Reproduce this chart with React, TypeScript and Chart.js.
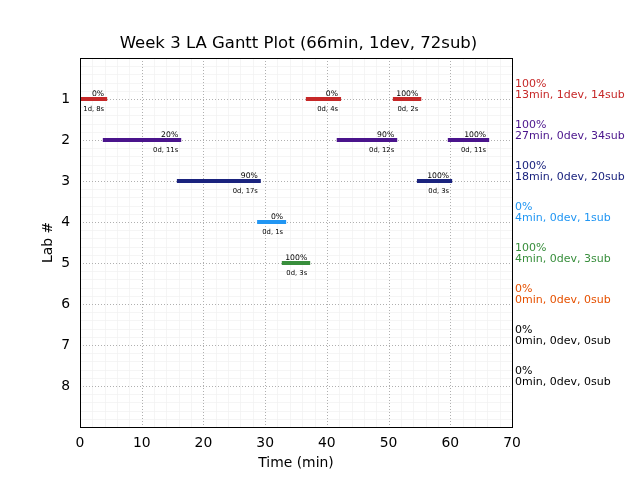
import React, { useEffect, useRef } from "react";
import { Chart, registerables } from "chart.js";

Chart.register(...registerables);

const TITLE = "Week 3 LA Gantt Plot (66min, 1dev, 72sub)";
const X_LABEL = "Time (min)";
const Y_LABEL = "Lab #";

const labs = [1, 2, 3, 4, 5, 6, 7, 8];
const labColors = ["#c62828", "#4a148c", "#1a237e", "#2196f3", "#388e3c", "#e65100", "#000000", "#000000"];
const labPct = ["100%", "100%", "100%", "0%", "100%", "0%", "0%", "0%"];
const labSummary = [
  "13min, 1dev, 14sub",
  "27min, 0dev, 34sub",
  "18min, 0dev, 20sub",
  "4min, 0dev, 1sub",
  "4min, 0dev, 3sub",
  "0min, 0dev, 0sub",
  "0min, 0dev, 0sub",
  "0min, 0dev, 0sub",
];

const barLab = [1, 1, 1, 2, 2, 2, 3, 3, 4, 5];
const barStart = [0, 36.6, 50.7, 3.7, 41.6, 59.6, 15.7, 54.6, 28.7, 32.7];
const barEnd = [4.4, 42.3, 55.3, 16.4, 51.4, 66.3, 29.3, 60.3, 33.4, 37.3];
const barPct = ["0%", "0%", "100%", "20%", "90%", "100%", "90%", "100%", "0%", "100%"];
const barDur = ["1d, 8s", "0d, 4s", "0d, 2s", "0d, 11s", "0d, 12s", "0d, 11s", "0d, 17s", "0d, 3s", "0d, 1s", "0d, 3s"];

const FONT = "'DejaVu Sans', sans-serif";

const overlayPlugin = {
  id: "overlay",
  beforeDatasetsDraw(chart: any) {
    const { ctx, chartArea: a, scales } = chart;
    const xs = scales.x;
    const ys = scales.y;
    ctx.save();
    // minor grid
    ctx.strokeStyle = "#f2f2f2";
    ctx.lineWidth = 0.8;
    ctx.setLineDash([]);
    for (let v = 2; v < 70; v += 2) {
      if (v % 10 === 0) continue;
      const px = Math.round(xs.getPixelForValue(v)) + 0.5;
      ctx.beginPath();
      ctx.moveTo(px, a.top);
      ctx.lineTo(px, a.bottom);
      ctx.stroke();
    }
    for (let i = 1; i < 45; i++) {
      if (i % 5 === 0) continue;
      const v = i / 5;
      const py = Math.round(ys.getPixelForValue(v)) + 0.5;
      ctx.beginPath();
      ctx.moveTo(a.left, py);
      ctx.lineTo(a.right, py);
      ctx.stroke();
    }
    // major grid
    ctx.strokeStyle = "#b0b0b0";
    ctx.lineWidth = 1;
    ctx.setLineDash([1, 2]);
    for (let v = 10; v < 70; v += 10) {
      const px = Math.round(xs.getPixelForValue(v)) + 0.5;
      ctx.beginPath();
      ctx.moveTo(px, a.top);
      ctx.lineTo(px, a.bottom);
      ctx.stroke();
    }
    for (const l of labs) {
      const py = Math.round(ys.getPixelForValue(l)) + 0.5;
      ctx.beginPath();
      ctx.moveTo(a.left, py);
      ctx.lineTo(a.right, py);
      ctx.stroke();
    }
    ctx.restore();
  },
  afterDatasetsDraw(chart: any) {
    const { ctx, chartArea: a, scales } = chart;
    const xs = scales.x;
    const ys = scales.y;
    ctx.save();
    // bar labels
    ctx.fillStyle = "#000";
    ctx.textAlign = "right";
    for (let i = 0; i < barLab.length; i++) {
      const px = xs.getPixelForValue(barEnd[i]) - 3;
      const py = ys.getPixelForValue(barLab[i]);
      ctx.font = `7.7px ${FONT}`;
      ctx.textBaseline = "alphabetic";
      ctx.fillText(barPct[i], px, py - 3.5);
      ctx.font = `6.8px ${FONT}`;
      ctx.textBaseline = "middle";
      ctx.fillText(barDur[i], px, py + 10);
    }
    // right annotations
    ctx.textAlign = "left";
    ctx.textBaseline = "middle";
    ctx.font = `11px ${FONT}`;
    for (let i = 0; i < labs.length; i++) {
      const py = ys.getPixelForValue(labs[i]);
      ctx.fillStyle = labColors[i];
      ctx.fillText(labPct[i], a.right + 3, py - 15);
      ctx.fillText(labSummary[i], a.right + 3, py - 3.5);
    }
    // frame
    ctx.strokeStyle = "#000";
    ctx.lineWidth = 1;
    ctx.setLineDash([]);
    ctx.strokeRect(Math.round(a.left) + 0.5, Math.round(a.top) + 0.5, Math.round(a.right - a.left), Math.round(a.bottom - a.top));
    // title & axis labels
    ctx.fillStyle = "#000";
    ctx.textAlign = "center";
    ctx.textBaseline = "middle";
    ctx.font = `16.5px ${FONT}`;
    ctx.fillText(TITLE, (a.left + a.right) / 2 + 2.5, 44);
    ctx.font = `13.9px ${FONT}`;
    ctx.fillText(X_LABEL, (a.left + a.right) / 2, 463);
    ctx.translate(48, (a.top + a.bottom) / 2);
    ctx.rotate(-Math.PI / 2);
    ctx.fillText(Y_LABEL, 0, 0);
    ctx.restore();
  },
};

export default function App() {
  const ref = useRef<HTMLCanvasElement>(null);
  useEffect(() => {
    if (!ref.current) return;
    const datasets = barLab.map((lab, i) => ({
      data: [
        { x: barStart[i], y: lab },
        { x: barEnd[i], y: lab },
      ],
      borderColor: labColors[lab - 1],
      backgroundColor: labColors[lab - 1],
      borderWidth: 4,
      borderCapStyle: "butt" as const,
      pointRadius: 0,
      pointHoverRadius: 0,
      fill: false,
    }));
    const chart = new Chart(ref.current, {
      type: "line",
      data: { datasets },
      options: {
        animation: false,
        responsive: false,
        events: [],
        layout: { padding: { left: 0, top: 58, right: 128, bottom: 0 } },
        plugins: { legend: { display: false }, tooltip: { enabled: false }, title: { display: false } },
        scales: {
          x: {
            type: "linear",
            min: 0,
            max: 70,
            ticks: { stepSize: 10, color: "#000", font: { family: FONT, size: 13.9 }, padding: 8, maxRotation: 0 },
            grid: { display: false, drawTicks: false },
            border: { display: false },
            afterFit: (s: any) => {
              s.height = 53;
            },
          },
          y: {
            type: "linear",
            reverse: true,
            min: 0,
            max: 9,
            afterBuildTicks: (s: any) => {
              s.ticks = labs.map((v) => ({ value: v }));
            },
            ticks: { stepSize: 1, color: "#000", font: { family: FONT, size: 13.9 }, padding: 10 },
            grid: { display: false, drawTicks: false },
            border: { display: false },
            afterFit: (s: any) => {
              s.width = 80;
            },
          },
        },
      },
      plugins: [overlayPlugin],
    });
    return () => chart.destroy();
  }, []);
  return (
    <div style={{ position: "absolute", left: 0, top: 0, width: 640, height: 480, background: "#fff" }}>
      <canvas ref={ref} width={640} height={480} style={{ width: 640, height: 480 }} />
    </div>
  );
}
